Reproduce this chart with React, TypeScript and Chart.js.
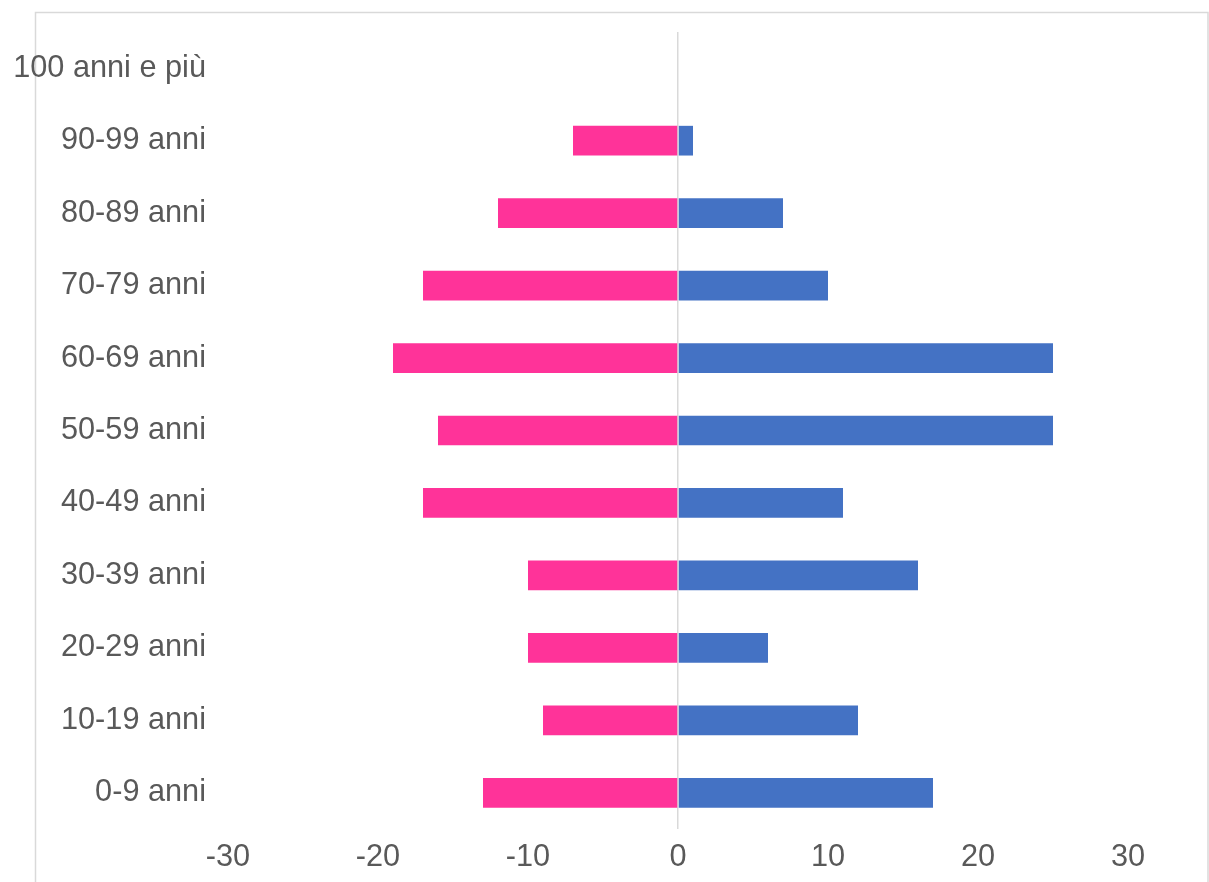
import React, { useEffect, useRef } from "react";
import { Chart, registerables } from "chart.js";

Chart.register(...registerables);

const ageGroups = [
  "100 anni e più",
  "90-99 anni",
  "80-89 anni",
  "70-79 anni",
  "60-69 anni",
  "50-59 anni",
  "40-49 anni",
  "30-39 anni",
  "20-29 anni",
  "10-19 anni",
  "0-9 anni",
];

// Left side of the pyramid (negative values)
const femmine = [0, -7, -12, -17, -19, -16, -17, -10, -10, -9, -13];
// Right side of the pyramid
const maschi = [0, 1, 7, 10, 25, 25, 11, 16, 6, 12, 17];

const xMin = -30;
const xMax = 30;
const xStep = 10;

const FONT = '"Liberation Sans", Arial, sans-serif';
const TEXT_COLOR = "#595959";
const LINE_COLOR = "#d9d9d9";

// Thin outer frame: top, left and right edges
const framePlugin = {
  id: "frame",
  beforeDraw(chart: any) {
    const { ctx, width, height } = chart;
    ctx.save();
    ctx.strokeStyle = LINE_COLOR;
    ctx.lineWidth = 1.5;
    ctx.beginPath();
    ctx.moveTo(35.5, height);
    ctx.lineTo(35.5, 12.5);
    ctx.lineTo(width - 1, 12.5);
    ctx.lineTo(width - 1, height);
    ctx.stroke();
    ctx.restore();
  },
};

export default function App() {
  const canvasRef = useRef<HTMLCanvasElement | null>(null);

  useEffect(() => {
    if (!canvasRef.current) return;
    const chart = new Chart(canvasRef.current, {
      type: "bar",
      data: {
        labels: ageGroups,
        datasets: [
          {
            label: "Femmine",
            data: femmine,
            backgroundColor: "#FF3399",
            borderWidth: 0,
            barPercentage: 0.41,
            categoryPercentage: 1,
          },
          {
            label: "Maschi",
            data: maschi,
            backgroundColor: "#4472C4",
            borderWidth: 0,
            barPercentage: 0.41,
            categoryPercentage: 1,
          },
        ],
      },
      options: {
        indexAxis: "y",
        animation: false,
        responsive: false,
        maintainAspectRatio: false,
        layout: { padding: { left: 0, right: 81, top: 32, bottom: 0 } },
        plugins: {
          legend: { display: false },
          tooltip: { enabled: false },
        },
        scales: {
          x: {
            stacked: true,
            min: xMin,
            max: xMax,
            border: { display: false },
            grid: {
              drawTicks: false,
              lineWidth: 1.5,
              color: (c: any) =>
                c.tick && c.tick.value === 0 ? LINE_COLOR : "rgba(0,0,0,0)",
            },
            ticks: {
              stepSize: xStep,
              padding: 10,
              color: TEXT_COLOR,
              font: { family: FONT, size: 30.7 },
            },
            afterFit: (scale: any) => {
              scale.height = 53;
              scale.paddingLeft = 0;
              scale.paddingRight = 0;
            },
          },
          y: {
            stacked: true,
            border: { display: false },
            grid: { display: false, drawTicks: false },
            ticks: {
              padding: 22,
              color: TEXT_COLOR,
              font: { family: FONT, size: 30.7 },
            },
            afterFit: (scale: any) => {
              scale.width = 228;
              scale.paddingTop = 0;
              scale.paddingBottom = 0;
            },
          },
        },
      },
      plugins: [framePlugin],
    });
    return () => chart.destroy();
  }, []);

  return (
    <div
      style={{
        position: "fixed",
        left: 0,
        top: 0,
        width: 1209,
        height: 882,
        background: "#ffffff",
      }}
    >
      <canvas ref={canvasRef} width={1209} height={882} />
    </div>
  );
}
